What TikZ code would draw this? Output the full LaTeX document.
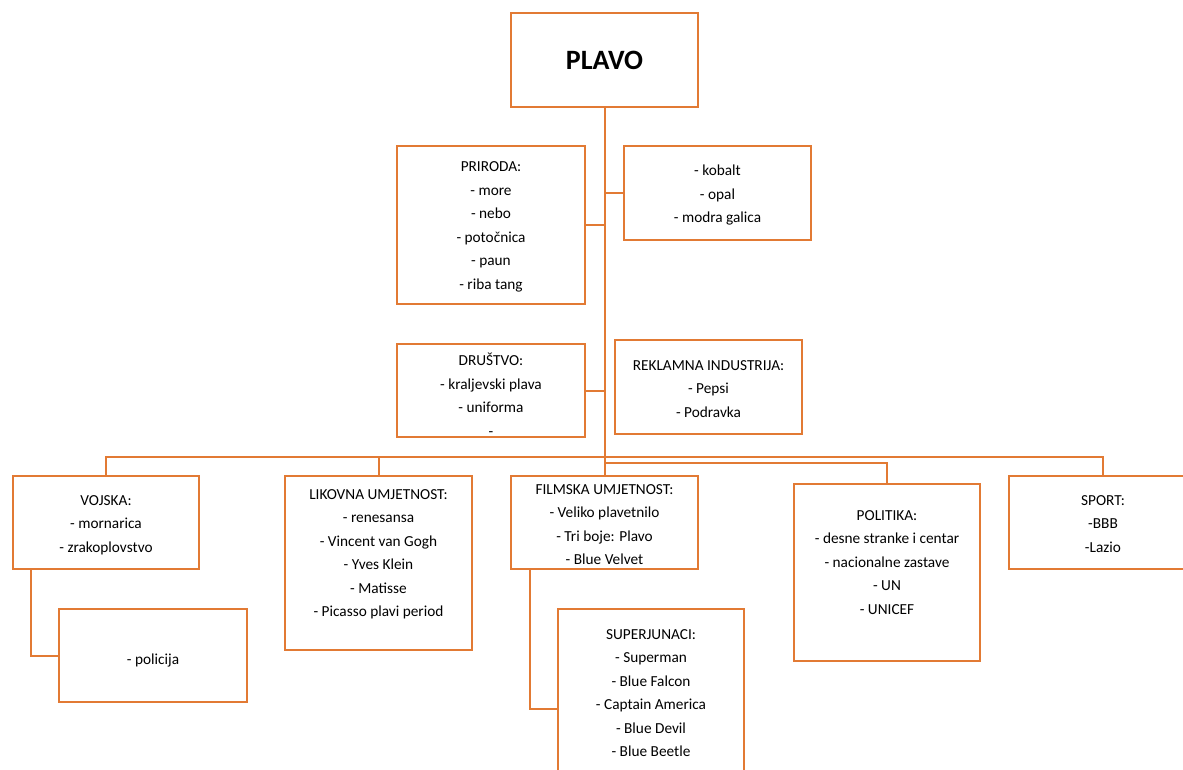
\documentclass[tikz,border=0pt]{standalone}
\usepackage{fontspec}
\setmainfont{Carlito}
\definecolor{org}{RGB}{226,122,52}
\begin{document}
\begin{tikzpicture}[x=1pt,y=-1pt,
  box/.style={draw=org,line width=2pt,rectangle,inner sep=0pt},
  conn/.style={draw=org,line width=2pt},
  txt/.style={align=center,anchor=north,inner sep=0pt,
    font=\fontsize{15.3}{23.5}\selectfont,
    execute at begin node={\rule{0pt}{12pt}}}]
\useasboundingbox (0,0) rectangle (1183,769);
\clip (0,0) rectangle (1183,769);
% boxes
\node[box,minimum width=187,minimum height=94,font=\fontsize{28}{30}\selectfont\bfseries] (plavo) at (604.5,60) {PLAVO};
\node[box,minimum width=188,minimum height=158] (prir) at (491,225) {};
\node[box,minimum width=187,minimum height=94] (kob) at (717.5,193) {};
\node[box,minimum width=188,minimum height=93] (drus) at (491,390.5) {};
\node[box,minimum width=187,minimum height=94] (rekl) at (708.5,387) {};
\node[box,minimum width=186,minimum height=93] (voj) at (106,522.5) {};
\node[box,minimum width=188,minimum height=93] (polic) at (153,655.5) {};
\node[box,minimum width=187,minimum height=174] (lik) at (378.5,563) {};
\node[box,minimum width=187,minimum height=93] (film) at (604.5,522.5) {};
\node[box,minimum width=186,minimum height=181] (sup) at (651,699.5) {};
\node[box,minimum width=186,minimum height=177] (polit) at (887,572.5) {};
\node[box,minimum width=187,minimum height=93] (sport) at (1102.5,522.5) {};
% texts
\node[txt] (tprir) at (491,161.5) {PRIRODA:\\- more\\- nebo\\- potočnica\\- paun\\- riba tang};
\node[txt] (tkob) at (717.5,165) {- kobalt\\- opal\\- modra galica};
\node[txt] (tdrus) at (491,353) {DRUŠTVO:\\- kraljevski plava\\- uniforma\\-};
\node[txt] (trekl) at (708.5,360) {REKLAMNA INDUSTRIJA:\\- Pepsi\\- Podravka};
\node[txt] (tvoj) at (106,495) {VOJSKA:\\- mornarica\\- zrakoplovstvo};
\node[txt] (tpolic) at (153,652) {- policija};
\node[txt] (tlik) at (378.5,489) {LIKOVNA UMJETNOST:\\- renesansa\\- Vincent van Gogh\\- Yves Klein\\- Matisse\\- Picasso plavi period};
\node[txt] (tfilm) at (604.5,484) {FILMSKA UMJETNOST:\\- Veliko plavetnilo\\- Tri boje: Plavo\\- Blue Velvet};
\node[txt] (tsup) at (651,629) {SUPERJUNACI:\\- Superman\\- Blue Falcon\\- Captain America\\- Blue Devil\\- Blue Beetle};
\node[txt] (tpolit) at (887,510) {POLITIKA:\\- desne stranke i centar\\- nacionalne zastave\\- UN\\- UNICEF};
\node[txt] (tsport) at (1103,495) {SPORT:\\-BBB\\-Lazio};
% connectors
\coordinate (bar1) at (604.5,457);
\coordinate (bar2) at (604.5,463);
\draw[conn] (plavo.south) -- (film.north);
\draw[conn] (prir.east) -- (plavo.south |- prir.east);
\draw[conn] (kob.west) -- (plavo.south |- kob.west);
\draw[conn] (drus.east) -- (plavo.south |- drus.east);
\draw[conn] (voj.north) |- (bar1) -| (sport.north);
\draw[conn] (lik.north) -- (lik.north |- bar1);
\draw[conn] (bar2) -| (polit.north);
\draw[conn] ([xshift=-75]voj.south) |- (polic.west);
\draw[conn] ([xshift=-74.5]film.south) |- ([yshift=-9.5]sup.west);
\end{tikzpicture}
\end{document}
